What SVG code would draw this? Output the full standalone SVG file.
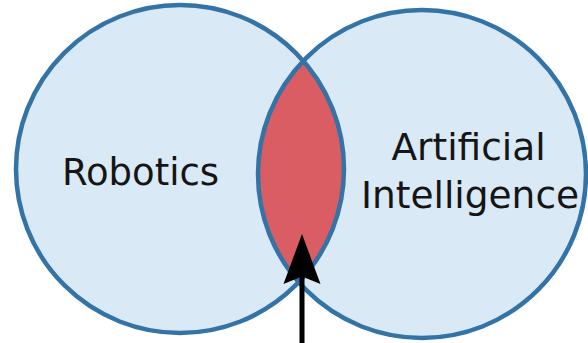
<svg xmlns="http://www.w3.org/2000/svg" width="588" height="343" viewBox="0 0 588 343">
  <defs>
    <style>
      .fill { fill: #dae9f6; stroke: none; }
      .ring { fill: none; stroke: #3473a6; stroke-width: 4.5; }
      .lens { fill: #d95d62; stroke: none; }
      .label { font-family: "DejaVu Sans", "Liberation Sans", sans-serif; font-size: 37px; fill: #151515; text-anchor: middle; }
      .big { font-size: 37.5px; }
      .arrow { fill: #000; stroke: none; }
    </style>
  </defs>
  <rect x="0" y="0" width="588" height="343" fill="#ffffff"/>
  <g id="fills">
    <circle class="fill" cx="180" cy="169" r="164"/>
    <circle class="fill" cx="422" cy="174" r="164"/>
  </g>
  <g id="intersection">
    <path class="lens" d="M303.3,60.9 A164,164 0 0,1 298.7,282.2 A164,164 0 0,1 303.3,60.9 Z"/>
  </g>
  <g id="robotics">
    <circle class="ring" cx="180" cy="169" r="164"/>
    <text class="label" x="140.5" y="184.5">Robotics</text>
  </g>
  <g id="ai">
    <circle class="ring" cx="422" cy="174" r="164"/>
    <text class="label big" x="468.5" y="160">Artificial</text>
    <text class="label big" x="470" y="207.5">Intelligence</text>
  </g>
  <g id="connectors">
    <rect class="arrow" x="299.5" y="276" width="5" height="70"/>
    <path class="arrow" d="M302,234 L320.5,284 L302,276.5 L283.5,284 Z"/>
  </g>
</svg>
